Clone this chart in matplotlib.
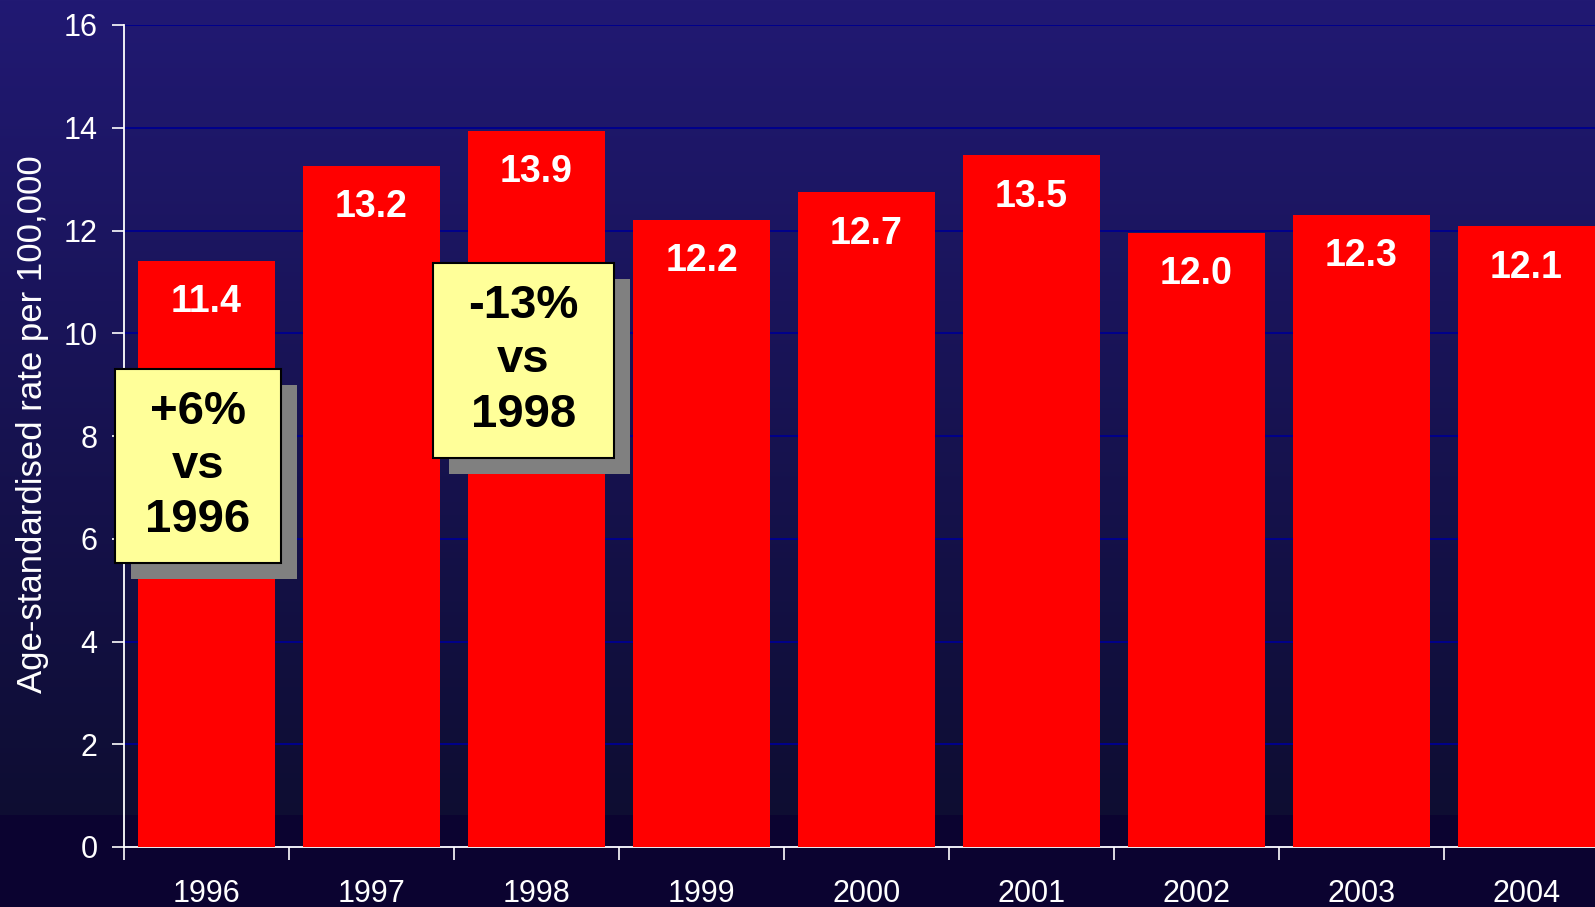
import matplotlib
matplotlib.use("Agg")
import matplotlib.pyplot as plt
import numpy as np
from matplotlib.patches import Rectangle

years = ["1996", "1997", "1998", "1999", "2000", "2001", "2002", "2003", "2004"]
rates = [11.4, 13.25, 13.93, 12.2, 12.74, 13.46, 11.95, 12.3, 12.08]
rate_labels = ["11.4", "13.2", "13.9", "12.2", "12.7", "13.5", "12.0", "12.3", "12.1"]
callouts = ["+6%\nvs\n1996", "-13%\nvs\n1998"]

plt.rcParams["font.family"] = ["Liberation Sans", "DejaVu Sans"]

W, H = 1595, 907
fig = plt.figure(figsize=(W / 100, H / 100), dpi=100)

# background gradient
bg = fig.add_axes([0, 0, 1, 1], zorder=-10)
bg.axis("off")
top = np.array([33, 25, 115]) / 255
mid = np.array([14, 13, 50]) / 255
low = np.array([11, 3, 48]) / 255
rows = np.arange(H)
cut = 815
t = np.clip(rows / cut, 0, 1)[:, None]
grad = top * (1 - t) + mid * t
grad[rows >= cut] = low
bg.imshow(grad[:, None, :], aspect="auto", extent=[0, 1, 0, 1])
bg.set_xlim(0, 1)
bg.set_ylim(0, 1)

ax_left, ax_right = 124, 1609
ax_top, ax_bot = 25, 847
ax = fig.add_axes([ax_left / W, 1 - ax_bot / H, (ax_right - ax_left) / W, (ax_bot - ax_top) / H])
ax.patch.set_alpha(0)

x = np.arange(len(years))
ax.bar(x, rates, width=0.835, color="#ff0000", zorder=3)
for xi, v, lab in zip(x, rates, rate_labels):
    ax.text(xi, v - 0.45, lab, ha="center", va="top", color="white",
            fontsize=27, fontweight="bold", zorder=4)

ax.set_xlim(-0.5, 8.5)
ax.set_ylim(0, 16)
ax.set_yticks(np.arange(0, 17, 2))
ax.yaxis.grid(True, color="#00008c", linewidth=1.4, zorder=0)
ax.set_axisbelow(True)

ax.set_xticks(x)
ax.set_xticklabels(years)
ax.set_xticks(np.arange(-0.5, 9, 1), minor=True)
ax.tick_params(axis="x", which="major", length=0, pad=23, labelsize=22, colors="white")
ax.tick_params(axis="x", which="minor", length=9, width=1.2, color="white", direction="out")
ax.tick_params(axis="y", length=9, width=1.2, colors="white", labelsize=22, pad=10)

for s in ["top", "right"]:
    ax.spines[s].set_visible(False)
for s in ["left", "bottom"]:
    ax.spines[s].set_color("white")
    ax.spines[s].set_linewidth(1.3)

fig.text(33 / W, 1 - 424 / H, "Age-standardised rate per 100,000", rotation=90,
         ha="center", va="center", color="white", fontsize=25)

# call-out boxes (pixel boxes: left, top, right, bottom)
boxes = [(115, 369, 281, 563), (433, 263, 614, 458)]
off = 16
for (l, tp, r, b), txt in zip(boxes, callouts):
    shadow = Rectangle(((l + off) / W, 1 - (b + off) / H), (r - l) / W, (b - tp) / H,
                       transform=fig.transFigure, facecolor="#808080", edgecolor="none", zorder=5)
    box = Rectangle((l / W, 1 - b / H), (r - l) / W, (b - tp) / H,
                    transform=fig.transFigure, facecolor="#ffff99", edgecolor="black",
                    linewidth=1.5, zorder=6)
    fig.patches.extend([shadow, box])
    fig.text((l + r) / 2 / W, 1 - (tp + b) / 2 / H, txt, ha="center", va="center",
             fontsize=34, fontweight="bold", color="black", linespacing=1.3, zorder=7)

fig.savefig("out.png", dpi=100)
